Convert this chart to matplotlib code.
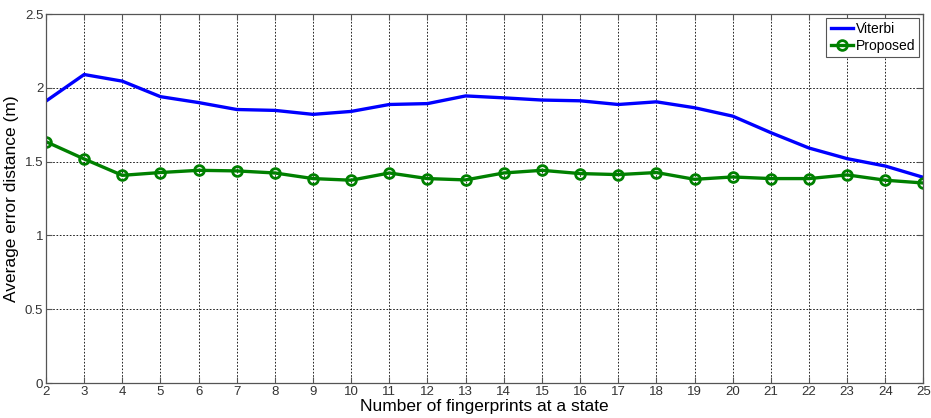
import matplotlib
matplotlib.use("Agg")
import matplotlib.pyplot as plt
from matplotlib import font_manager

# fingerprints per state vs average error distance (m)
n_fingerprints = list(range(2, 26))
viterbi = [1.91, 2.09, 2.045, 1.94, 1.90, 1.853, 1.847, 1.82, 1.84, 1.887, 1.893, 1.945,
           1.932, 1.917, 1.912, 1.887, 1.905, 1.865, 1.808, 1.696, 1.592, 1.52, 1.47, 1.393]
proposed = [1.635, 1.518, 1.407, 1.426, 1.441, 1.437, 1.423, 1.385, 1.374, 1.423, 1.385, 1.376,
            1.423, 1.441, 1.419, 1.412, 1.426, 1.380, 1.396, 1.385, 1.385, 1.410, 1.374, 1.355]
y_ticks = [0, 0.5, 1, 1.5, 2, 2.5]
y_ticklabels = ["0", "0.5", "1", "1.5", "2", "2.5"]

installed = {f.name for f in font_manager.fontManager.ttflist}
tick_font = "Liberation Sans Narrow" if "Liberation Sans Narrow" in installed else "Liberation Sans"
plt.rcParams["font.family"] = ["Liberation Sans", "DejaVu Sans"]

fig = plt.figure(figsize=(9.31, 4.18), dpi=100)
ax = fig.add_axes([0.0494, 0.0837, 0.9425, 0.8828])

ax.plot(n_fingerprints, viterbi, color="#0000ff", linewidth=2.4, label="Viterbi")
ax.plot(n_fingerprints, proposed, color="#008000", linewidth=2.4, marker="o",
        markersize=7, markerfacecolor="none", markeredgewidth=2, label="Proposed")

ax.set_xlim(2, 25)
ax.set_ylim(0, 2.5)
ax.set_xticks(n_fingerprints)
ax.set_yticks(y_ticks)
ax.set_yticklabels(y_ticklabels)
for lab in ax.get_xticklabels() + ax.get_yticklabels():
    lab.set_fontfamily(tick_font)
    lab.set_fontsize(9.5)
    lab.set_color("#333333")

ax.tick_params(direction="in", length=4, width=0.8, color="#555555", top=True, right=True, pad=2)
ax.grid(True, color="black", linestyle=(0, (2, 2)), linewidth=0.6)
for sp in ax.spines.values():
    sp.set_color("#555555")
    sp.set_linewidth(0.9)

ax.set_xlabel("Number of fingerprints at a state", fontsize=12.5, labelpad=1)
ax.set_ylabel("Average error distance (m)", fontsize=12.5, labelpad=4)

leg = ax.legend(loc="upper right", fontsize=10, handlelength=1.6, handletextpad=0.2,
                borderpad=0.3, labelspacing=0.2, borderaxespad=0.3, fancybox=False,
                framealpha=1, edgecolor="#555555")
leg.get_frame().set_linewidth(0.8)

fig.savefig("out.png", dpi=100)
